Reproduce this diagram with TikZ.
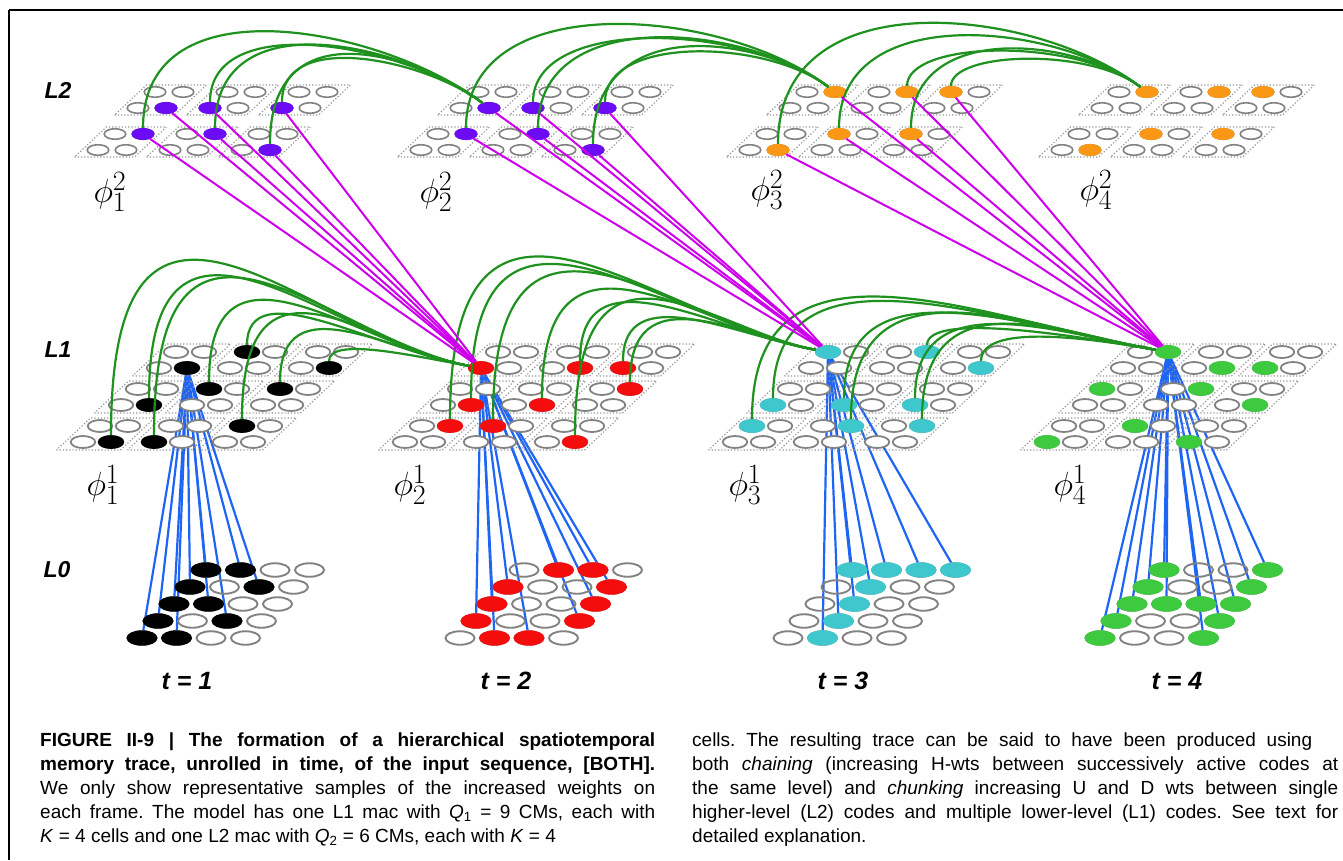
\documentclass[tikz,border=0pt]{standalone}
\usepackage{fontspec}
\setmainfont{Liberation Sans}
\usetikzlibrary{shapes.geometric}
\pgfdeclarelayer{back}
\pgfdeclarelayer{front}
\pgfsetlayers{back,main,front}
\definecolor{cellgray}{RGB}{130,130,130}
\definecolor{dotgray}{RGB}{150,150,150}
\definecolor{cmpurple}{RGB}{108,12,245}
\definecolor{cmorange}{RGB}{250,152,22}
\definecolor{cmred}{RGB}{245,12,12}
\definecolor{cmcyan}{RGB}{62,200,205}
\definecolor{cmgreen}{RGB}{62,202,62}
\definecolor{hgreen}{RGB}{30,145,30}
\definecolor{umag}{RGB}{205,0,235}
\definecolor{dblue}{RGB}{30,100,245}
\tikzset{
  cellA/.style={ellipse, inner sep=0pt, draw=cellgray, fill=white, line width=1.8pt, minimum width=24.5pt, minimum height=12pt},
  cellB/.style={ellipse, inner sep=0pt, draw=cellgray, fill=white, line width=1.6pt, minimum width=21.5pt, minimum height=10.5pt},
  cellC/.style={ellipse, inner sep=0pt, draw=cellgray, line width=1.9pt, minimum width=29pt, minimum height=13.5pt},
  onA/.style={cellA, draw=#1, fill=#1},
  onB/.style={cellB, draw=#1, fill=#1},
  onC/.style={cellC, draw=#1, fill=#1},
  cmdots/.style={draw=dotgray, dotted, line width=1.2pt},
  hwt/.style={draw=hgreen, line width=2.2pt},
  uwt/.style={draw=umag, line width=2pt},
  dwt/.style={draw=dblue, line width=2.2pt},
  lvl/.style={font=\fontsize{23}{23}\selectfont\bfseries\itshape, inner sep=0pt},
  tlab/.style={font=\fontsize{25}{25}\selectfont\bfseries\itshape, inner sep=0pt},
  phil/.style={font=\Huge, inner sep=0pt, scale=1.35, transform shape},
  capt/.style={inner sep=0pt, anchor=north west, align=justify, font=\fontsize{19}{24}\selectfont},
  frameline/.style={line width=1.4pt, draw=black},
}
\begin{document}
\begin{tikzpicture}[x=1pt,y=-1pt]
\useasboundingbox (0,0) rectangle (1343,860);
\draw[frameline] (9,10) -- (1343,10);
\draw[frameline] (9,10) -- (9,860);

% ---------- L2 macs ----------
\foreach \qt/\qX in {1/98,2/421,3/750,4/1062}{
  \foreach \qi in {0,1,2}{\foreach \qj in {0,1}{
    \pgfmathsetmacro\cmbx{\qX+72*\qi+40*\qj}
    \pgfmathsetmacro\cmby{150-42*\qj}
    \draw[cmdots] (\cmbx-23.4,\cmby+7) -- (\cmbx+36.6,\cmby+7) -- (\cmbx+68.4,\cmby-23) -- (\cmbx+8.4,\cmby-23) -- cycle;
    \foreach \qa in {0,1}{\foreach \qb in {0,1}{
      \node[cellB] (d\qt-\qi-\qj-\qa-\qb) at (\cmbx+28*\qa+17*\qb,\cmby-16*\qb) {};
    }}
  }}
}
\foreach \qt/\qc/\qlist in {
  1/cmpurple/{0/1/1/0,1/1/0/0,2/1/0/0,0/0/1/1,1/0/1/1,2/0/1/0},
  2/cmpurple/{0/1/1/0,1/1/0/0,2/1/0/0,0/0/1/1,1/0/1/1,2/0/1/0},
  3/cmorange/{0/1/1/1,1/1/1/1,2/1/0/1,0/0/1/0,1/0/0/1,2/0/0/1},
  4/cmorange/{0/1/1/1,1/1/1/1,2/1/0/1,0/0/1/0,1/0/0/1,2/0/0/1}}{
  \foreach \qi/\qj/\qa/\qb in \qlist {
    \node[onB=\qc] (d\qt-\qi-\qj-\qa-\qb) at (d\qt-\qi-\qj-\qa-\qb) {};
  }
}

% ---------- L1 macs ----------
\foreach \qt/\qX in {1/83,2/405,3/735,4/1047}{
  \foreach \qi in {0,1,2}{\foreach \qj in {0,1,2}{
    \pgfmathsetmacro\cmbx{\qX+71*\qi+38*\qj}
    \pgfmathsetmacro\cmby{442-37*\qj}
    \draw[cmdots] (\cmbx-26.5,\cmby+8) -- (\cmbx+37.5,\cmby+8) -- (\cmbx+71.5,\cmby-24) -- (\cmbx+7.5,\cmby-24) -- cycle;
    \foreach \qa in {0,1}{\foreach \qb in {0,1}{
      \node[cellA] (c\qt-\qi-\qj-\qa-\qb) at (\cmbx+28*\qa+17*\qb,\cmby-16*\qb) {};
    }}
  }}
}
\foreach \qt/\qc/\qlist in {
  1/black/{0/0/1/0,1/0/0/0,2/0/0/1,0/1/1/0,1/1/0/1,2/1/0/1,0/2/1/0,1/2/0/1,2/2/1/0},
  2/cmred/{0/2/0/0,1/2/1/0,2/2/0/0,2/1/1/1,0/1/1/0,1/1/1/0,0/0/1/1,1/0/0/1,2/0/1/0},
  3/cmcyan/{0/2/0/1,1/2/1/1,2/2/1/0,0/1/0/0,1/1/0/0,2/1/0/0,0/0/0/1,1/0/1/1,2/0/1/1},
  4/cmgreen/{0/2/1/1,1/2/1/0,2/2/0/0,0/1/0/1,1/1/1/1,2/1/1/0,1/0/0/1,0/0/0/0,2/0/0/0}}{
  \foreach \qi/\qj/\qa/\qb in \qlist {
    \node[onA=\qc] (c\qt-\qi-\qj-\qa-\qb) at (c\qt-\qi-\qj-\qa-\qb) {};
  }
}

% ---------- L0 input fields ----------
\foreach \qt/\qX in {1/142,2/460,3/788,4/1100}{
  \foreach \qr in {0,...,4}{\foreach \qa in {0,...,3}{
    \node[cellC] (e\qt-\qr-\qa) at (\qX+34.5*\qa+16*\qr,638-17*\qr) {};
  }}
}
\foreach \qt/\qc/\qlist in {
  1/black/{0/0,0/1,1/0,1/2,2/0,2/1,3/0,3/2,4/0,4/1},
  2/cmred/{0/1,0/2,1/0,1/3,2/0,2/3,3/0,3/3,4/1,4/2},
  3/cmcyan/{0/1,1/1,2/1,3/1,4/0,4/1,4/2,4/3},
  4/cmgreen/{0/0,0/3,1/0,1/3,2/0,2/1,2/2,2/3,3/0,3/3,4/0,4/3}}{
  \foreach \qr/\qa in \qlist {
    \node[onC=\qc] (e\qt-\qr-\qa) at (e\qt-\qr-\qa) {};
  }
}

% ---------- D weights (blue) ----------
\begin{pgfonlayer}{back}
\foreach \qt/\qs/\qlist in {
  1/c1-0-2-1-0/{0/0,0/1,1/0,1/2,2/0,2/1,3/0,3/2,4/0,4/1},
  2/c2-0-2-0-0/{0/1,0/2,1/0,1/3,2/0,2/3,3/0,3/3,4/1,4/2},
  3/c3-0-2-0-1/{0/1,1/1,2/1,3/1,4/0,4/1,4/2,4/3},
  4/c4-0-2-1-1/{0/0,0/3,1/0,1/3,2/0,2/1,2/2,2/3,3/0,3/3,4/0,4/3}}{
  \foreach \qr/\qa in \qlist {
    \draw[dwt] (\qs) -- (e\qt-\qr-\qa);
  }
}
\end{pgfonlayer}

% ---------- H weights (green) and U weights (magenta) ----------
\begin{pgfonlayer}{front}
\foreach \qt/\qX/\qh/\hubx/\huby/\qk/\qlist in {
  1/83/c2-0-2-0-0/481/368/0.41/{0/0/1/0,1/0/0/0,2/0/0/1,0/1/1/0,1/1/0/1,2/1/0/1,1/2/0/1,2/2/1/0},
  2/405/c3-0-2-0-1/828/352/0.35/{1/2/1/0,2/2/0/0,2/1/1/1,0/1/1/0,1/1/1/0,0/0/1/1,1/0/0/1,2/0/1/0},
  3/735/c4-0-2-1-1/1168/352/0.17/{1/2/1/1,2/2/1/0,0/1/0/0,1/1/0/0,2/1/0/0,0/0/0/1,1/0/1/1,2/0/1/1}}{
  \foreach \qi/\qj/\qa/\qb in \qlist {
    \pgfmathsetmacro\gsx{\qX+71*\qi+38*\qj+28*\qa+17*\qb}
    \pgfmathsetmacro\gsy{442-37*\qj-16*\qb}
    \pgfmathsetmacro\gdx{\hubx-\gsx}
    \pgfmathsetmacro\gtop{\huby-\qk*(\gdx-110)}
    \pgfmathsetmacro\gqx{\hubx-0.45*\gdx}
    \pgfmathsetmacro\gqy{\huby-0.08*\gdx}
    \pgfmathsetmacro\gpy{(\gtop-0.216*\gsy-0.288*\gqy-0.064*\huby)/0.432}
    \draw[hwt] (c\qt-\qi-\qj-\qa-\qb) .. controls (\gsx,\gpy) and (\gqx,\gqy) .. (\qh);
  }
}
\foreach \qt/\qX/\qh/\hubx/\huby/\qlist in {
  1/98/d2-0-1-1-0/489/108/{1/1/0/0,2/1/0/0,0/0/1/1,1/0/1/1,2/0/1/0},
  2/421/d3-0-1-1-1/835/92/{1/1/0/0,2/1/0/0,0/0/1/1,1/0/1/1,2/0/1/0},
  3/750/d4-0-1-1-1/1147/92/{1/0/0/1,0/0/1/0,1/1/1/1,2/1/0/1,2/0/0/1}}{
  \foreach \qi/\qj/\qa/\qb in \qlist {
    \pgfmathsetmacro\gsx{\qX+72*\qi+40*\qj+28*\qa+17*\qb}
    \pgfmathsetmacro\gsy{150-42*\qj-16*\qb}
    \pgfmathsetmacro\gdx{\hubx-\gsx}
    \pgfmathsetmacro\gtop{97-0.18*\gdx}
    \pgfmathsetmacro\gqx{\hubx-0.3*\gdx}
    \pgfmathsetmacro\gqy{\huby-0.23*\gdx}
    \pgfmathsetmacro\gpy{(\gtop-0.216*\gsy-0.288*\gqy-0.064*\huby)/0.432}
    \draw[hwt] (d\qt-\qi-\qj-\qa-\qb) .. controls (\gsx,\gpy) and (\gqx,\gqy) .. (\qh);
  }
}
\foreach \qt/\qh/\qlist in {
  1/c2-0-2-0-0/{0/1/1/0,1/1/0/0,2/1/0/0,0/0/1/1,1/0/1/1,2/0/1/0},
  2/c3-0-2-0-1/{0/1/1/0,1/1/0/0,2/1/0/0,0/0/1/1,1/0/1/1,2/0/1/0},
  3/c4-0-2-1-1/{0/1/1/1,1/1/1/1,2/1/0/1,0/0/1/0,1/0/0/1,2/0/0/1}}{
  \foreach \qi/\qj/\qa/\qb in \qlist {
    \draw[uwt] (d\qt-\qi-\qj-\qa-\qb) -- (\qh);
  }
}
\end{pgfonlayer}

% ---------- labels ----------
\node[lvl] (labL2) at (58,90) {L2};
\node[lvl] (labL1) at (58,350) {L1};
\node[lvl] (labL0) at (57,570) {L0};
\node[tlab] (tl1) at (187,681) {t = 1};
\node[tlab] (tl2) at (506,681) {t = 2};
\node[tlab] (tl3) at (843,681) {t = 3};
\node[tlab] (tl4) at (1177,681) {t = 4};
\node[phil] (ph21) at (110,192) {$\phi^2_1$};
\node[phil] (ph22) at (436,192) {$\phi^2_2$};
\node[phil] (ph23) at (767,190) {$\phi^2_3$};
\node[phil] (ph24) at (1096,190) {$\phi^2_4$};
\node[phil] (ph11) at (103,485) {$\phi^1_1$};
\node[phil] (ph12) at (410,485) {$\phi^1_2$};
\node[phil] (ph13) at (745,485) {$\phi^1_3$};
\node[phil] (ph14) at (1070,485) {$\phi^1_4$};

% ---------- caption ----------
\node[capt, text width=615pt] (capl) at (40,729) {\frenchspacing\tolerance=9999\hbadness=10000\parfillskip=0pt\strut\textbf{FIGURE II-9 | The formation of a hierarchical spatiotemporal\linebreak memory trace, unrolled in time, of the input sequence, [BOTH].}\linebreak We only show representative samples of the increased weights on\linebreak each frame. The model has one L1 mac with \textit{Q}\textsubscript{1}~=~9 CMs, each with\linebreak \textit{K}~=~4 cells and one L2 mac with \textit{Q}\textsubscript{2}~=~6 CMs, each with \textit{K}~=~4};
\node[capt, text width=646pt] (capr) at (692,729) {\frenchspacing\tolerance=9999\hbadness=10000\strut cells. The resulting trace can be said to have been produced using\hspace*{26pt}\linebreak both \textit{chaining} (increasing H-wts between successively active codes at\linebreak the same level) and \textit{chunking} increasing U and D wts between single\linebreak higher-level (L2) codes and multiple lower-level (L1) codes. See text for\linebreak detailed explanation.};
\end{tikzpicture}
\end{document}
